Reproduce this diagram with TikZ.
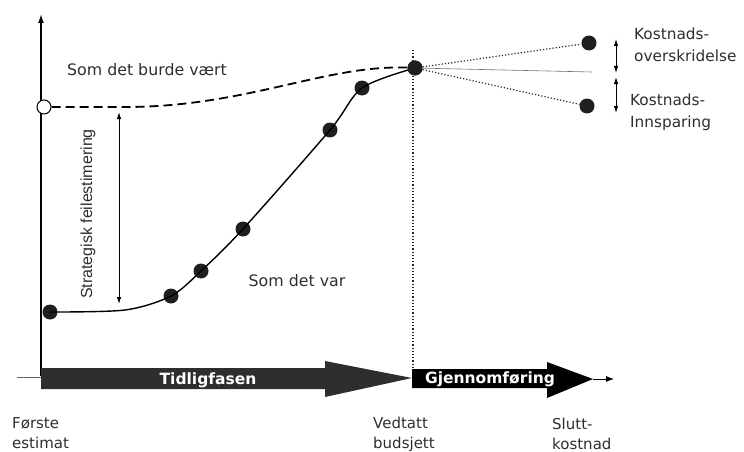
\documentclass[tikz,border=0pt]{standalone}
\usepackage{fontspec}
\setmainfont{DejaVu Sans}
\newfontfamily\narrowfont{Liberation Sans}
\usetikzlibrary{arrows.meta}
\definecolor{ink}{HTML}{2E2E2E}
\begin{document}
\begin{tikzpicture}[x=1pt,y=-1pt,
  dot/.style={circle,fill=black!88,inner sep=0pt,minimum size=15pt},
  opendot/.style={circle,draw=black,line width=1pt,fill=white,inner sep=0pt,minimum size=14pt},
  label/.style={text=ink,font=\fontsize{15.8}{18}\selectfont,inner sep=0pt},
  sidelabel/.style={text=ink,font=\fontsize{15.3}{22}\selectfont,align=left,inner sep=0pt,anchor=west},
  milestone/.style={text=ink,font=\fontsize{15}{20}\selectfont,align=left,inner sep=0pt,anchor=west},
  phase/.style={text=white,font=\bfseries\fontsize{15.5}{17}\selectfont,inner sep=0pt},
  axis/.style={line width=1.5pt,-{Latex[length=9pt,width=6pt]}},
  span/.style={line width=0.9pt,{Latex[length=7pt,width=4.5pt]}-{Latex[length=7pt,width=4.5pt]}},
  guide/.style={line width=1.2pt,dotted,black!85},
]
\useasboundingbox (0,0) rectangle (744,452);

% axes
\coordinate (origin) at (41,377);
\coordinate (ytop) at (41,14);
\coordinate (xleft) at (17,377);
\coordinate (xend) at (614,379);
\draw[axis] (origin |- 0,376) -- (ytop);
\draw[line width=0.6pt,black!60] (xleft) -- (origin);

% phase arrows along the time axis
\fill[black!82] (41,368) -- (325,368) -- (325,361) -- (412,378) -- (325,397) -- (325,389) -- (41,389) -- cycle;
\node[phase] (early) at (208,380) {Tidligfasen};
\fill[black] (412,369) -- (547,369) -- (547,362) -- (593,379) -- (547,398) -- (547,388) -- (412,388) -- cycle;
\node[phase] (exec) at (490,379) {Gjennomføring};
\coordinate (execTip) at (593,379);
\draw[line width=0.8pt,-{Latex[length=8pt,width=6pt]}] (execTip) -- (xend);

% budget decision line
\coordinate (vtop) at (413,50);
\coordinate (vbot) at (413,368);
\draw[guide] (vtop) -- (vbot);

% planned cost path (dashed)
\node[opendot] (p0) at (44,107) {};
\node[dot] (budget) at (415,68) {};
\coordinate (flat) at (125,107);
\draw[line width=1.8pt,dash pattern=on 9pt off 5pt] (p0) -- (flat)
  .. controls (250,107) and (330,62) .. (budget.center);

% actual cost path
\node[dot] (a0) at (50,312) {};
\node[dot] (a1) at (171,296) {};
\node[dot] (a2) at (201,271) {};
\node[dot] (a3) at (243,229) {};
\node[dot] (a4) at (330,130) {};
\node[dot] (a5) at (362,88) {};
\coordinate (bend) at (125,310);
\draw[line width=1.4pt] plot[smooth,tension=0.5] coordinates
  {(a0) (bend) (a1) (a2) (a3) (a4) (a5) (budget)};
\node[dot] at (budget) {};

% outcomes after the budget
\node[dot] (over) at (589,43) {};
\node[dot] (under) at (587,106) {};
\coordinate (level) at (592,72);
\draw[guide] (budget) -- (over);
\draw[guide] (budget) -- (under);
\draw[line width=0.6pt,black!55] (budget) -- (level);

\coordinate (s1) at (616,39);
\coordinate (s2) at (616,73);
\coordinate (s3) at (616,77);
\coordinate (s4) at (616,113);
\draw[span] (s1) -- (s2);
\draw[span] (s3) -- (s4);
\node[sidelabel] (overTxt) at (634,45) {Kostnads-\\overskridelse};
\node[sidelabel] (underTxt) at (630,112) {Kostnads-\\Innsparing};

% strategic misestimation
\coordinate (m1) at (119,112);
\coordinate (m2) at (119,304);
\draw[span] (m1) -- (m2);
\node[text=ink,font=\narrowfont\fontsize{16}{18}\selectfont,rotate=90,inner sep=0pt] (strat) at (88,214) {Strategisk feilestimering};

% curve captions
\node[label] (should) at (147,70) {Som det burde vært};
\node[label] (was) at (297,281) {Som det var};

% milestones on the time axis
\node[milestone] (first) at (12,433) {Første\\estimat};
\node[milestone] (decided) at (373,434) {Vedtatt\\budsjett};
\node[milestone] (final) at (552,434) {Slutt-\\kostnad};
\end{tikzpicture}
\end{document}
